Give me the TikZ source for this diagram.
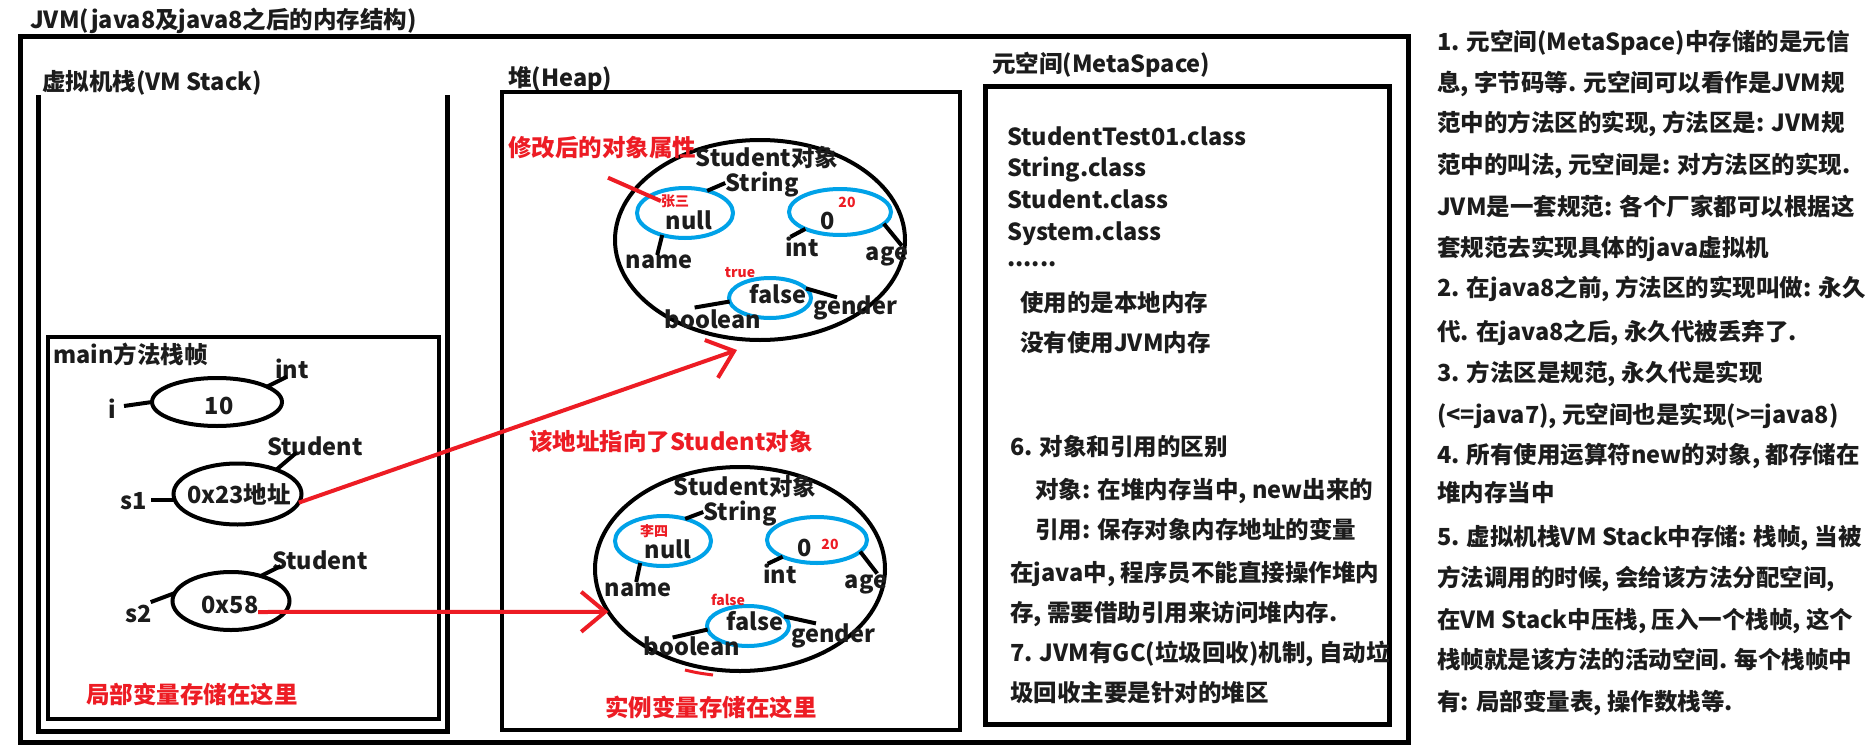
\documentclass[tikz,border=0pt]{standalone}
\usepackage{fontspec}
\setmainfont{Noto Sans CJK SC}
\usetikzlibrary{shapes.geometric,arrows.meta,calc}
\definecolor{pred}{RGB}{237,28,36}
\definecolor{pblue}{RGB}{0,162,232}
\definecolor{ink}{RGB}{28,28,28}
\begin{document}
\begin{tikzpicture}[x=1pt,y=-1pt,
  lbl/.style={font=\bfseries\fontsize{23.5}{28}\selectfont, text=ink, inner sep=0pt, text height=20pt, text depth=3pt},
  lf/.style={lbl, anchor=west},
  redlbl/.style={lbl, text=pred},
  sm/.style={font=\bfseries\fontsize{14}{16}\selectfont, text=pred, inner sep=0pt, text height=12pt, text depth=2pt},
  bell/.style={ellipse, draw=black, line width=4pt, inner sep=0pt, outer sep=0pt},
  blell/.style={ellipse, draw=pblue, line width=4pt, inner sep=0pt, outer sep=0pt},
  conn/.style={draw=black, line width=4pt},
  redline/.style={draw=pred, line width=4pt},
  redarrow/.style={draw=pred, line width=4pt, -{Straight Barb[length=24pt,width=40pt]}},
  frame/.style={draw=black, line width=5pt},
  box/.style={draw=black, line width=4.5pt}
]
\useasboundingbox (0,0) rectangle (1874,752);
\fill[white] (0,0) rectangle (1874,752);

% ---------- frames ----------
\node[lf] (title) at (30,20) {JVM(java8及java8之后的内存结构)};
\draw[frame] (20,37) rectangle (1408,742);

\node[lf] (vmt) at (42,81.5) {虚拟机栈(VM Stack)};
\draw[frame] (38,95) -- (38,731) -- (447,731) -- (447,95);
\draw[box] (48,337) rectangle (439,719);
\node[lf] (mainf) at (53,354.5) {main方法栈帧};

\node[lf] (heapt) at (508,78.5) {堆(Heap)};
\draw[box] (502,92) rectangle (960,730);

\node[lf] (metat) at (992,64.5) {元空间(MetaSpace)};
\draw[frame] (985,86) rectangle (1389,724);

% ---------- VM stack frame contents ----------
\node[bell, minimum width=130, minimum height=48] (e10) at (217,402) {};
\node[lbl] (t10) at (219,406) {10};
\node[lbl] (i) at (112,410) {i};
\node[lbl] (int1) at (292,370) {int};
\draw[conn] (e10.180) -- ++(-28,4);
\draw[conn] (e10.17) -- ++(20,-10);

\node[bell, minimum width=128, minimum height=61] (e23) at (237.5,494) {};
\node[lbl] (t23) at (239,495) {0x23地址};
\node[lbl] (s1) at (134,501) {s1};
\node[lbl] (stu1) at (315,447) {Student};
\draw[conn] (e23.185) -- ++(-24,0);
\draw[conn] (e23.32) -- ++(20,-17);

\node[bell, minimum width=117, minimum height=58] (e58) at (231,601) {};
\node[lbl] (t58) at (230,605) {0x58};
\node[lbl] (s2) at (139,614) {s2};
\node[lbl] (stu2) at (320,561) {Student};
\draw[conn] (e58.172) -- ++(-24,9);
\draw[conn] (e58.40) -- ++(20,-10);

\node[redlbl] (lv) at (192,695) {局部变量存储在这里};

% ---------- heap object 1 ----------
\node[bell, minimum width=290, minimum height=200] (H1) at (760,240) {};
\node[redlbl] (mod) at (602,148) {修改后的对象属性};
\node[lbl] (so1) at (767,158) {Student对象};
\node[lbl] (str1) at (762,183) {String};
\node[blell, minimum width=96, minimum height=50] (b1n) at (685,213) {};
\node[lbl] (null1) at (689,221) {null};
\node[sm] (zs) at (675,201) {张三};
\node[lbl] (name1) at (659,260) {name};
\draw[conn] (b1n.45) -- (str1.west);
\draw[conn] (b1n.224) -- ++(-5,20);
\draw[redline] ($(mod.south)+(6,18)$) -- (zs.west);

\node[blell, minimum width=102, minimum height=46] (b1a) at (840,212) {};
\node[lbl] (z1) at (828,221) {0};
\node[sm] (tw1) at (847,202) {20};
\node[lbl] (int2) at (802,248) {int};
\node[lbl] (age1) at (887,252) {age};
\draw[conn] (b1a.206) -- ++(-15,8);
\draw[conn] (b1a.-15) -- ++(18,22);

\node[blell, minimum width=82, minimum height=40] (b1g) at (770,298) {};
\node[lbl] (f1) at (778,295) {false};
\node[sm] (tr) at (740,272) {true};
\node[lbl] (bo1) at (713,320) {boolean};
\node[lbl] (ge1) at (855,306) {gender};
\draw[conn] (b1g.185) -- ++(-35,6);
\draw[conn] (b1g.15) -- ++(31,9);

% ---------- heap object 2 ----------
\node[redlbl] (addr) at (671,442) {该地址指向了Student对象};
\node[bell, minimum width=290, minimum height=204] (H2) at (740,569) {};
\node[lbl] (so2) at (745,487) {Student对象};
\node[lbl] (str2) at (740,512) {String};
\node[blell, minimum width=96, minimum height=50] (b2n) at (663,541) {};
\node[lbl] (null2) at (668,550) {null};
\node[sm] (ls) at (654,531) {李四};
\node[lbl] (name2) at (638,588) {name};
\draw[conn] (b2n.45) -- (str2.west);
\draw[conn] (b2n.224) -- ++(-4,19);

\node[blell, minimum width=100, minimum height=46] (b2a) at (817,540) {};
\node[lbl] (z2) at (805,548) {0};
\node[sm] (tw2) at (830,544) {20};
\node[lbl] (int3) at (780,575) {int};
\node[lbl] (age2) at (866,580) {age};
\draw[conn] (b2a.206) -- ++(-15,7);
\draw[conn] (b2a.-15) -- ++(17,22);

\node[blell, minimum width=82, minimum height=40] (b2g) at (748,626) {};
\node[lbl] (f2) at (755,622) {false};
\node[sm] (fs) at (728,600) {false};
\node[lbl] (bo2) at (692,647) {boolean};
\node[lbl] (ge2) at (833,634) {gender};
\draw[conn] (b2g.185) -- ++(-35,8);
\draw[conn] (b2g.15) -- ++(32,7);

\coordinate (rs1) at (685,670);
\coordinate (rs2) at (713,675);
\draw[redline, line width=3pt] (rs1) .. controls (698,673) .. (rs2);

\node[redlbl] (inst) at (711,708) {实例变量存储在这里};

% ---------- red reference arrows ----------
\coordinate (A1tip) at (737,350);
\draw[redarrow] (e23.-8) -- (A1tip);
\coordinate (A2start) at (258,612);
\draw[redarrow] (A2start) -- (H2.198);

% ---------- metaspace ----------
\node[lf] (m1) at (1007,137) {StudentTest01.class};
\node[lf] (m2) at (1007,168) {String.class};
\node[lf] (m3) at (1007,200) {Student.class};
\node[lf] (m4) at (1007,232) {System.class};
\node[lf] (m5) at (1007,258) {......};
\node[lf] (m6) at (1020,303) {使用的是本地内存};
\node[lf] (m7) at (1020,343) {没有使用JVM内存};
\node[lf] (m8) at (1010,447) {6. 对象和引用的区别};
\node[lf] (m9) at (1035,490) {对象: 在堆内存当中, new出来的};
\node[lf] (m10) at (1035,530) {引用: 保存对象内存地址的变量};
\node[lf] (m11) at (1010,573) {在java中, 程序员不能直接操作堆内};
\node[lf] (m12) at (1010,613) {存, 需要借助引用来访问堆内存.};
\node[lf] (m13) at (1010,653) {7. JVM有GC(垃圾回收)机制, 自动垃};
\node[lf] (m14) at (1010,693) {圾回收主要是针对的堆区};

% ---------- right notes ----------
\node[lf] (r1) at (1437,42) {1. 元空间(MetaSpace)中存储的是元信};
\node[lf] (r2) at (1437,83) {息, 字节码等. 元空间可以看作是JVM规};
\node[lf] (r3) at (1437,123) {范中的方法区的实现, 方法区是: JVM规};
\node[lf] (r4) at (1437,165) {范中的叫法, 元空间是: 对方法区的实现.};
\node[lf] (r5) at (1437,207) {JVM是一套规范: 各个厂家都可以根据这};
\node[lf] (r6) at (1437,248) {套规范去实现具体的java虚拟机};
\node[lf] (r7) at (1437,288) {2. 在java8之前, 方法区的实现叫做: 永久};
\node[lf] (r8) at (1437,332) {代. 在java8之后, 永久代被丢弃了.};
\node[lf] (r9) at (1437,373) {3. 方法区是规范, 永久代是实现};
\node[lf] (r10) at (1437,415) {(<=java7), 元空间也是实现(>=java8)};
\node[lf] (r11) at (1437,455) {4. 所有使用运算符new的对象, 都存储在};
\node[lf] (r12) at (1437,493) {堆内存当中};
\node[lf] (r13) at (1437,537) {5. 虚拟机栈VM Stack中存储: 栈帧, 当被};
\node[lf] (r14) at (1437,578) {方法调用的时候, 会给该方法分配空间,};
\node[lf] (r15) at (1437,620) {在VM Stack中压栈, 压入一个栈帧, 这个};
\node[lf] (r16) at (1437,660) {栈帧就是该方法的活动空间. 每个栈帧中};
\node[lf] (r17) at (1437,702) {有: 局部变量表, 操作数栈等.};
\end{tikzpicture}
\end{document}
